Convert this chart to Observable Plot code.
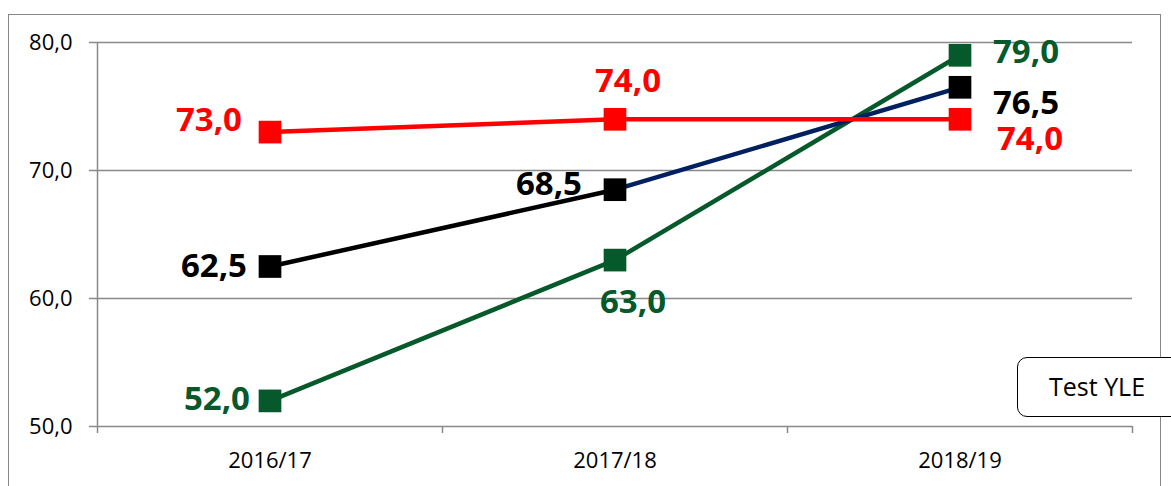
<!DOCTYPE html>
<html>
<head>
<meta charset="utf-8">
<script src="https://cdn.jsdelivr.net/npm/d3@7"></script>
<script src="https://cdn.jsdelivr.net/npm/@observablehq/plot@0.6"></script>
<style>
  html, body { margin: 0; padding: 0; background: #fff; }
  #wrap { position: relative; width: 1171px; height: 486px; overflow: hidden; background: #fff; font-family: "Open Sans", sans-serif; }
  #chart { position: absolute; left: 0; top: 0; }
  #frame { position: absolute; left: 8px; top: 14px; width: 1153px; height: 520px; border: 1.5px solid #888; box-sizing: border-box; pointer-events: none; }
  #legend { position: absolute; left: 1017px; top: 357px; width: 180px; height: 60px; border: 1.5px solid #000; border-radius: 10px; background: #fff; box-sizing: border-box; font-size: 25px; line-height: 57px; padding-left: 31px; color: #000; }
</style>
</head>
<body>
<div id="wrap">
  <div id="chart"></div>
  <div id="frame"></div>
  <div id="legend"></div>
</div>
<script>
// ---- data ----
const years = ["2016/17", "2017/18", "2018/19"];
const redValues = [73.0, 74.0, 74.0];
const blackValues = [62.5, 68.5, 76.5];
const greenValues = [52.0, 63.0, 79.0];
const yTicks = [50, 60, 70, 80];
const legendLabel = "Test YLE";

// ---- styling / placement ----
const gridColor = "#898989";
const colors = { red: "#FF0000", black: "#000000", navy: "#002060", green: "#06592A" };
const blackSegmentColors = [colors.black, colors.navy];
const labelPlacement = {
  green: [{anchor: "end", dx: -20, dy: -1}, {anchor: "middle", dx: 18, dy: 42}, {anchor: "start", dx: 33, dy: -3}],
  black: [{anchor: "end", dx: -23, dy: 0}, {anchor: "end", dx: -33, dy: -5}, {anchor: "start", dx: 33, dy: 16}],
  red:   [{anchor: "end", dx: -28, dy: -12}, {anchor: "middle", dx: 13, dy: -38}, {anchor: "start", dx: 37, dy: 20}]
};

const fmt = v => v.toFixed(1).replace(".", ",");
const toRows = vals => years.map((year, i) => ({year, value: vals[i]}));
const series = {
  green: toRows(greenValues),
  black: toRows(blackValues),
  red: toRows(redValues)
};

const marginLeft = 97, marginRight = 39, width = 1171;
const halfBand = (width - marginLeft - marginRight) / years.length / 2;

const marks = [
  Plot.ruleY(yTicks, {stroke: gridColor, strokeWidth: 1.5}),
  Plot.axisY({ticks: yTicks, tickSize: 8, tickPadding: 17, tickFormat: fmt, stroke: gridColor, strokeWidth: 1.5, label: null}),
  Plot.ruleX([years[0]], {dx: -halfBand, stroke: gridColor, strokeWidth: 1.5}),
  Plot.axisX({tickSize: 0, tickPadding: 26, label: null}),
  Plot.axisX({tickSize: 7, tickFormat: () => "", dx: -halfBand, stroke: gridColor, strokeWidth: 1.5, label: null}),
  Plot.axisX({ticks: [years[years.length - 1]], tickSize: 7, tickFormat: () => "", dx: halfBand, stroke: gridColor, strokeWidth: 1.5, label: null}),
  // lines
  Plot.line(series.green, {x: "year", y: "value", stroke: colors.green, strokeWidth: 4.5}),
  ...[0, 1].map(i => Plot.line(series.black.slice(i, i + 2), {x: "year", y: "value", stroke: blackSegmentColors[i], strokeWidth: 4.5})),
  Plot.line(series.red, {x: "year", y: "value", stroke: colors.red, strokeWidth: 4.5}),
  // markers
  Plot.dot(series.green, {x: "year", y: "value", symbol: "square", r: 12.8, fill: colors.green}),
  Plot.dot(series.black, {x: "year", y: "value", symbol: "square", r: 12.8, fill: colors.black}),
  Plot.dot(series.red, {x: "year", y: "value", symbol: "square", r: 12.8, fill: colors.red})
];

// data labels
for (const key of ["green", "black", "red"]) {
  series[key].forEach((row, i) => {
    const p = labelPlacement[key][i];
    marks.push(Plot.text([row], {
      x: "year", y: "value", text: d => fmt(d.value),
      textAnchor: p.anchor, dx: p.dx, dy: p.dy,
      fill: key === "black" ? colors.black : colors[key],
      fontSize: 33, fontWeight: "bold"
    }));
  });
}

const chart = Plot.plot({
  width, height: 486,
  marginLeft, marginRight, marginTop: 42, marginBottom: 60,
  x: {type: "band", domain: years, padding: 0},
  y: {domain: [50, 80]},
  style: {fontFamily: "'Open Sans', sans-serif", fontSize: "22px", background: "transparent", color: "#000"},
  marks
});
document.getElementById("chart").appendChild(chart);
document.getElementById("legend").textContent = legendLabel;
</script>
</body>
</html>
